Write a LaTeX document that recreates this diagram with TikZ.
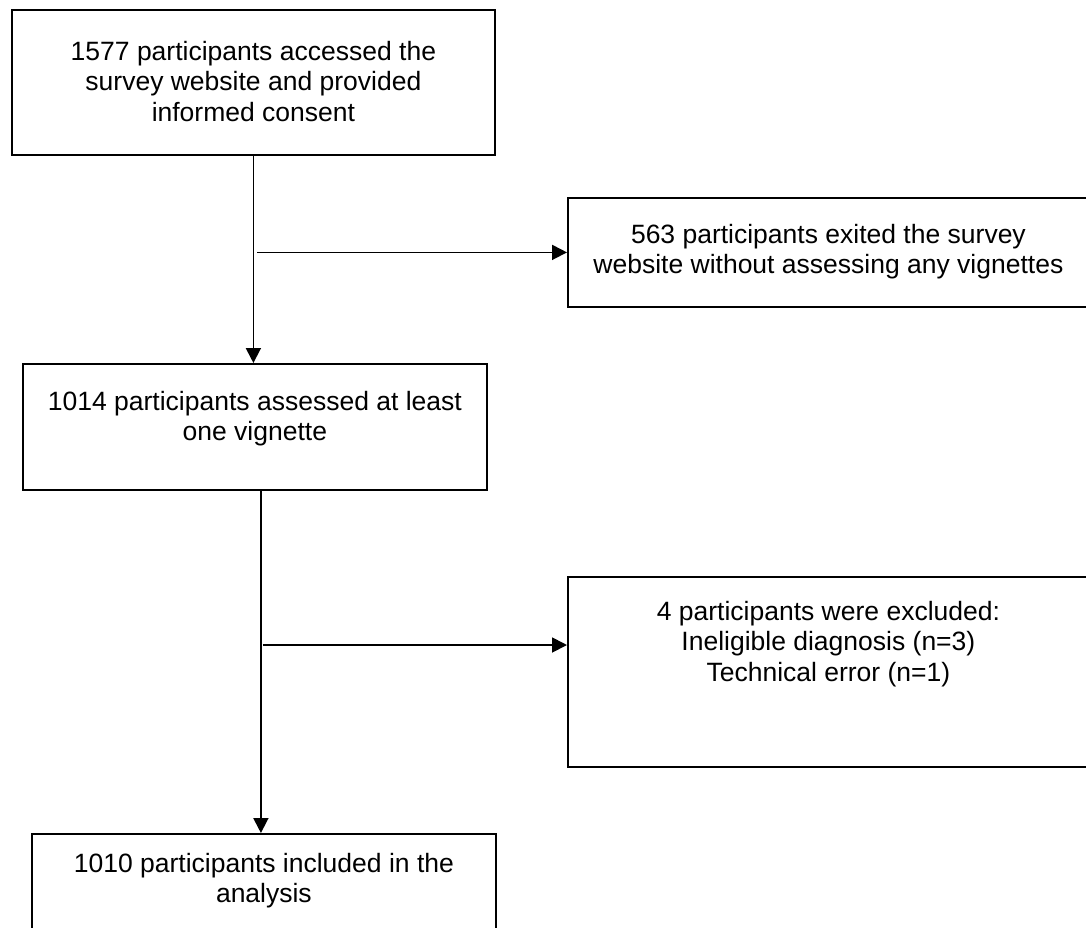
\documentclass[tikz,border=0pt]{standalone}
\usepackage{fontspec}
\setmainfont{Liberation Sans}
\usepackage{tikz}
\usetikzlibrary{arrows.meta}

% text of a box: width, height, space above the first line, lines
\newcommand{\flowtext}[4]{\parbox[t][#2][t]{#1}{\centering\vspace*{#3}#4\par}}

\begin{document}
\begin{tikzpicture}[x=1pt,y=-1pt,
    flowbox/.style={draw,line width=1.8pt,inner sep=0pt,anchor=north west,
      font=\fontsize{26.5}{30.5}\selectfont},
    flowarrow/.style={line width=1.8pt,-{Triangle[length=15pt,width=15pt]}}]
  \useasboundingbox (0,0) rectangle (1086,927);

  \node[flowbox] (consent) at (11,9)
    {\flowtext{483pt}{145pt}{31pt}{1577 participants accessed the\\survey website and provided\\informed consent}};
  \node[flowbox] (exited) at (567,197)
    {\flowtext{521pt}{109pt}{26pt}{563 participants exited the survey\\website without assessing any vignettes}};
  \node[flowbox] (assessed) at (22,363)
    {\flowtext{464pt}{126pt}{27pt}{1014 participants assessed at least\\one vignette}};
  \node[flowbox] (excluded) at (567,576)
    {\flowtext{521pt}{190pt}{24pt}{4 participants were excluded:\\Ineligible diagnosis (n=3)\\Technical error (n=1)}};
  \node[flowbox] (included) at (31,833)
    {\flowtext{464pt}{125pt}{19pt}{1010 participants included in the\\analysis}};

  \draw[flowarrow] (consent.south) -- (consent.south |- assessed.north);
  \coordinate (split1) at ([xshift=4pt]consent.south |- exited.west);
  \draw[flowarrow] (split1) -- (exited.west);

  \coordinate (down2) at ([xshift=6pt]assessed.south);
  \draw[flowarrow] (down2) -- (down2 |- included.north);
  \coordinate (in2) at ([yshift=-69pt]excluded.north west);
  \coordinate (split2) at ([xshift=2pt]down2 |- in2);
  \draw[flowarrow] (split2) -- (in2);
\end{tikzpicture}
\end{document}
